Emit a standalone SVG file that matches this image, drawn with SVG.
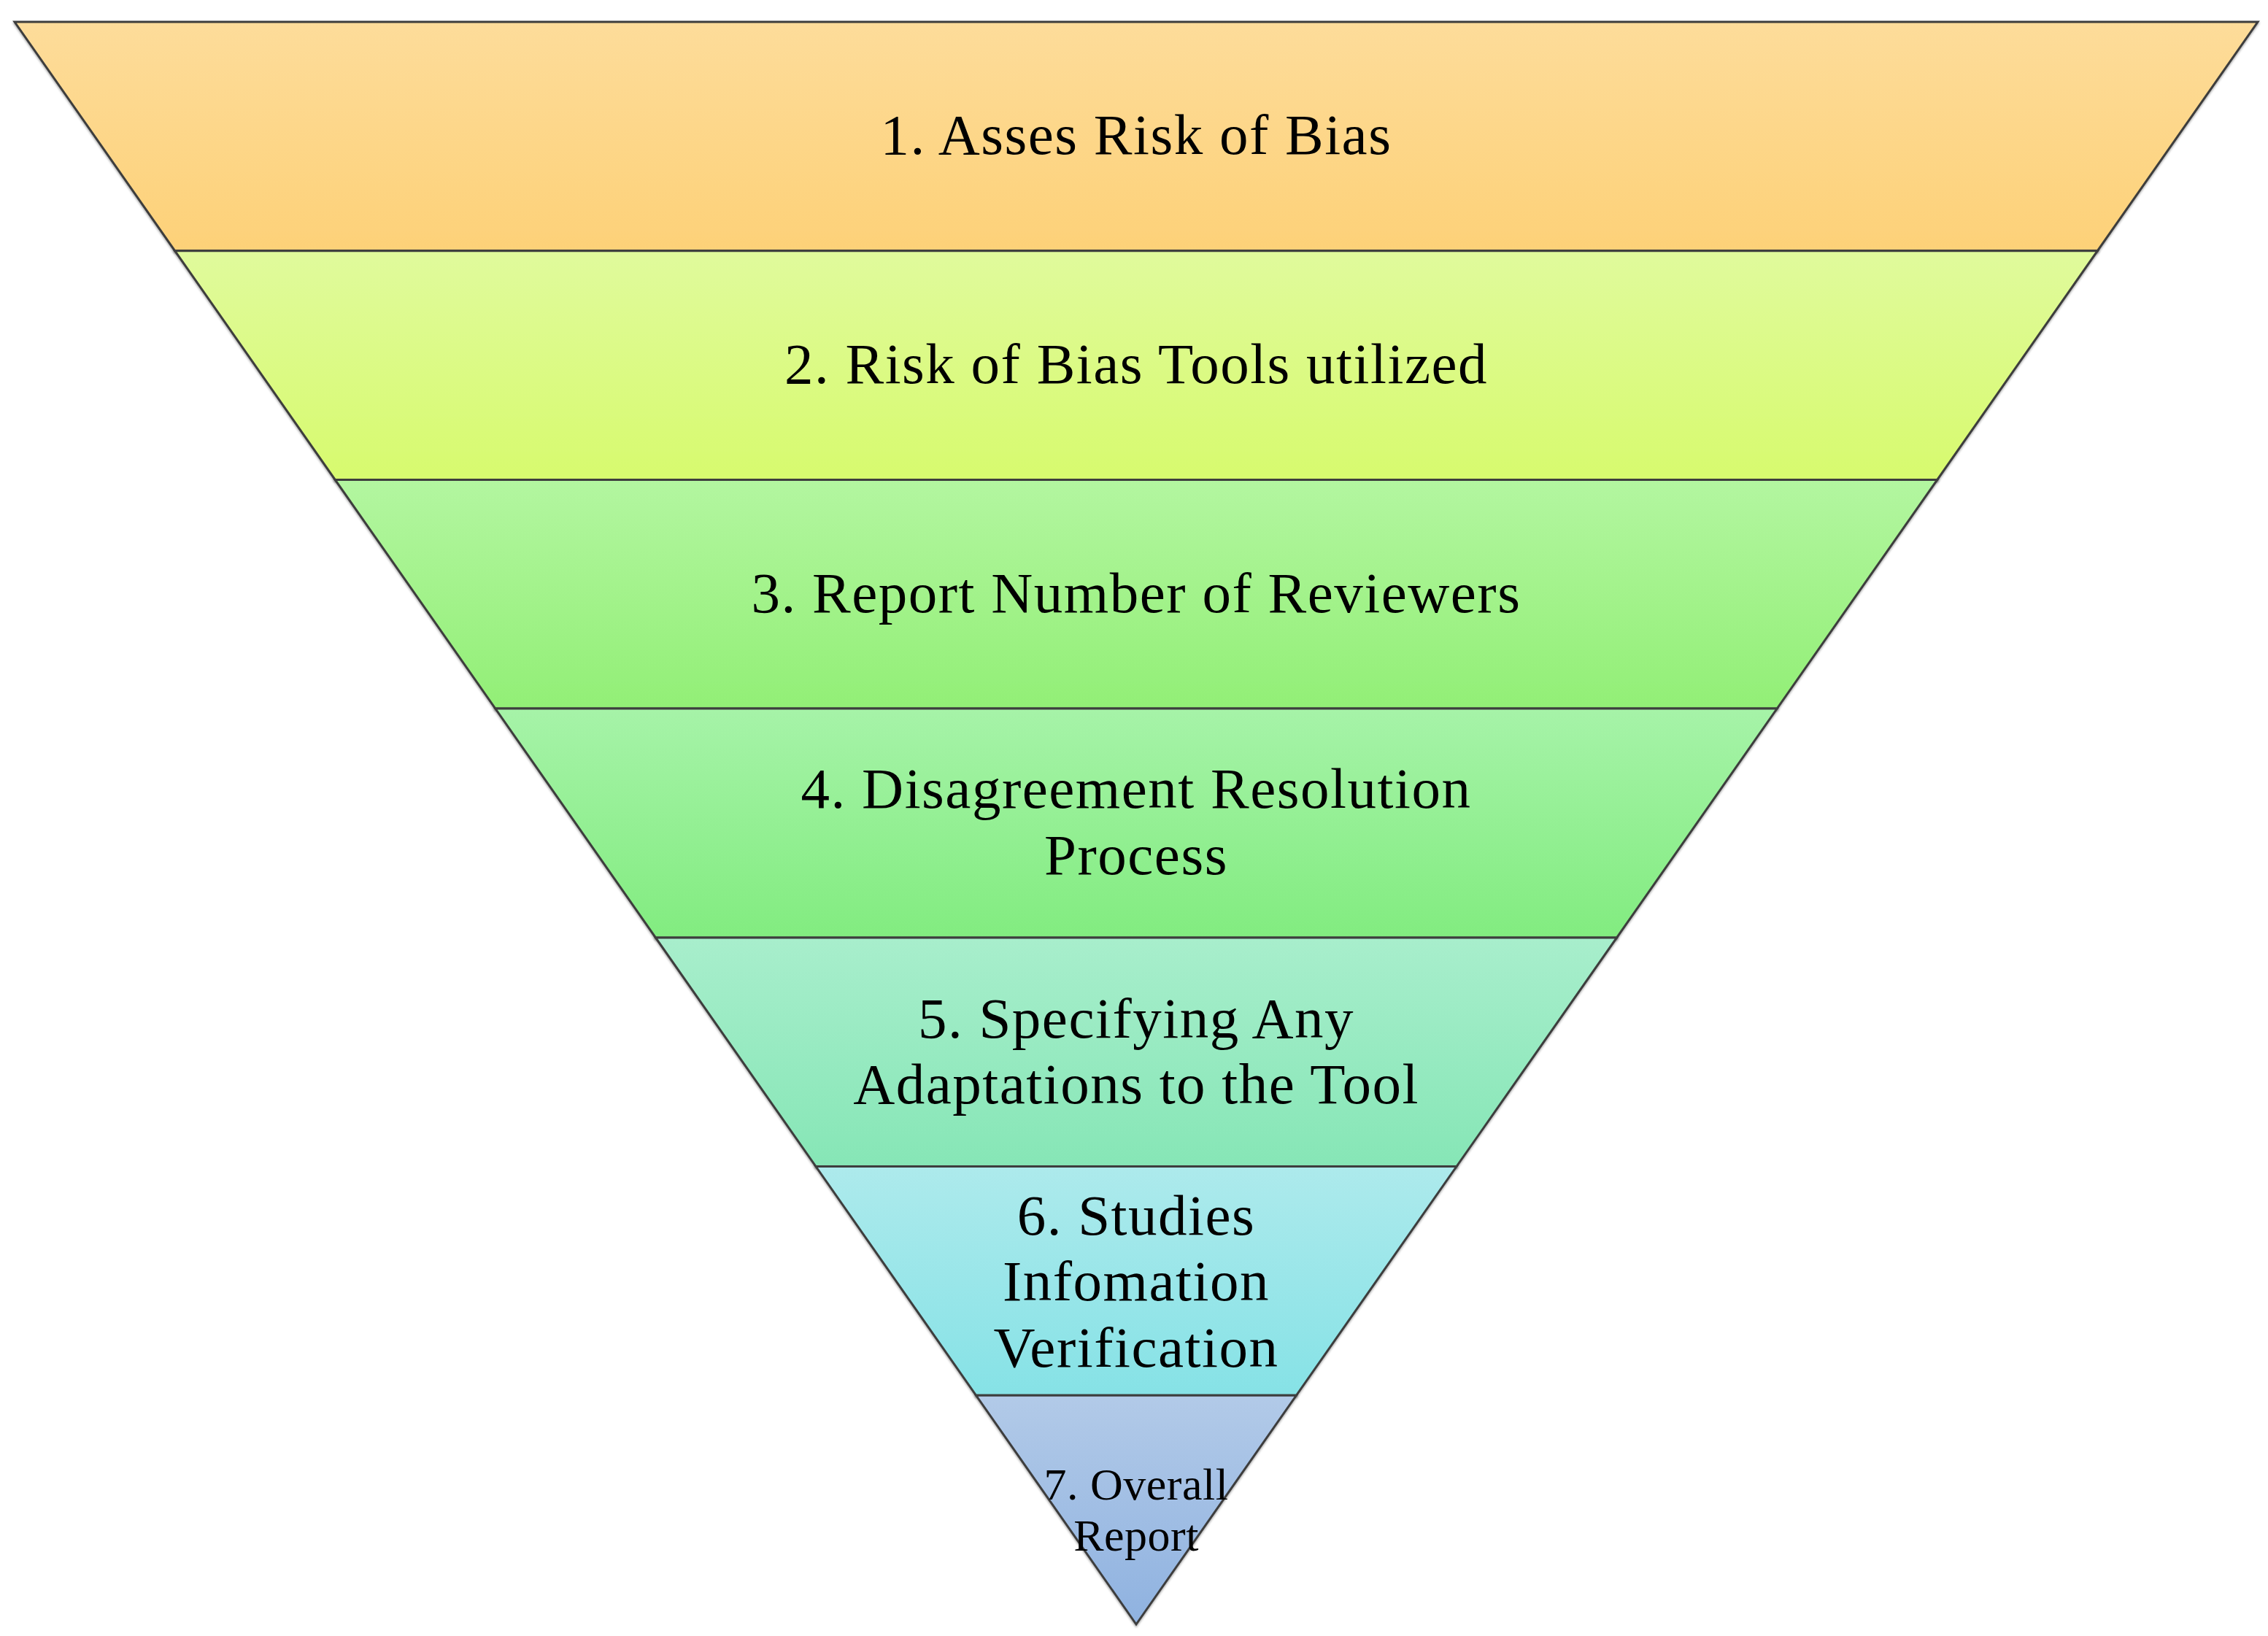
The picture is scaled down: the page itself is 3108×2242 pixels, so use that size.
<svg xmlns="http://www.w3.org/2000/svg" width="3108" height="2242" viewBox="0 0 3108 2242">
<defs>
<linearGradient id="g1" x1="0" y1="0" x2="0" y2="1"><stop offset="0" stop-color="#FDDC9A"/><stop offset="1" stop-color="#FDD178"/></linearGradient>
<linearGradient id="g2" x1="0" y1="0" x2="0" y2="1"><stop offset="0" stop-color="#E0FA9C"/><stop offset="1" stop-color="#D7FA6E"/></linearGradient>
<linearGradient id="g3" x1="0" y1="0" x2="0" y2="1"><stop offset="0" stop-color="#B3F6A0"/><stop offset="1" stop-color="#92EF76"/></linearGradient>
<linearGradient id="g4" x1="0" y1="0" x2="0" y2="1"><stop offset="0" stop-color="#A6F3A8"/><stop offset="1" stop-color="#82EC80"/></linearGradient>
<linearGradient id="g5" x1="0" y1="0" x2="0" y2="1"><stop offset="0" stop-color="#A8EECC"/><stop offset="1" stop-color="#86E6B6"/></linearGradient>
<linearGradient id="g6" x1="0" y1="0" x2="0" y2="1"><stop offset="0" stop-color="#ADEAEC"/><stop offset="1" stop-color="#86E2E6"/></linearGradient>
<linearGradient id="g7" x1="0" y1="0" x2="0" y2="1"><stop offset="0" stop-color="#B2CAE8"/><stop offset="1" stop-color="#8FB2E0"/></linearGradient>
<filter id="sh" x="-5%" y="-5%" width="110%" height="115%"><feDropShadow dx="0" dy="2" stdDeviation="1.5" flood-color="#000" flood-opacity="0.35"/></filter>
</defs>
<style>
.band{stroke:#3c3c3c;stroke-width:3;stroke-linejoin:miter;filter:url(#sh)}
.lbl{font-family:"Liberation Serif","DejaVu Serif",serif;font-size:79px;letter-spacing:1.5px;fill:#000;text-anchor:middle}
.small{font-size:62px;letter-spacing:0.5px}
</style>
<rect width="3108" height="2242" fill="#fff"/>
<g id="connectors"></g>
<g id="band1"><polygon class="band" fill="url(#g1)" points="20,30 3094,30 2874.4,343.7 239.6,343.7"/><text class="lbl" x="1557" y="211">1. Asses Risk of Bias</text></g>
<g id="band2"><polygon class="band" fill="url(#g2)" points="239.6,343.7 2874.4,343.7 2654.8,657.4 459.2,657.4"/><text class="lbl" x="1557" y="525">2. Risk of Bias Tools utilized</text></g>
<g id="band3"><polygon class="band" fill="url(#g3)" points="459.2,657.4 2654.8,657.4 2435.2,971.1 678.8,971.1"/><text class="lbl" x="1557" y="839">3. Report Number of Reviewers</text></g>
<g id="band4"><polygon class="band" fill="url(#g4)" points="678.8,971.1 2435.2,971.1 2215.6,1284.9 898.4,1284.9"/><text class="lbl" x="1557" y="1107">4. Disagreement Resolution</text><text class="lbl" x="1557" y="1198">Process</text></g>
<g id="band5"><polygon class="band" fill="url(#g5)" points="898.4,1284.9 2215.6,1284.9 1996,1598.6 1118,1598.6"/><text class="lbl" x="1557" y="1422">5. Specifying Any</text><text class="lbl" x="1557" y="1512">Adaptations to the Tool</text></g>
<g id="band6"><polygon class="band" fill="url(#g6)" points="1118,1598.6 1996,1598.6 1776.4,1912.3 1337.6,1912.3"/><text class="lbl" x="1557" y="1692">6. Studies</text><text class="lbl" x="1557" y="1782">Infomation</text><text class="lbl" x="1557" y="1873">Verification</text></g>
<g id="band7"><polygon class="band" fill="url(#g7)" points="1337.6,1912.3 1776.4,1912.3 1557,2226"/><text class="lbl small" x="1557" y="2055">7. Overall</text><text class="lbl small" x="1557" y="2125">Report</text></g>
</svg>
